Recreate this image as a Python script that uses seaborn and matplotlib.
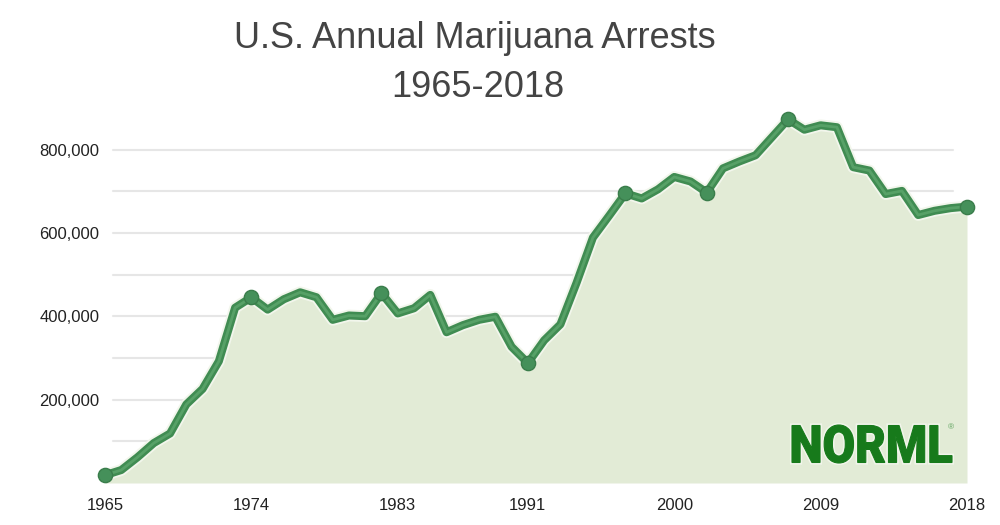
import matplotlib
matplotlib.use("Agg")
import matplotlib.pyplot as plt
import matplotlib.patheffects as pe
import pandas as pd
import seaborn as sns
from matplotlib.font_manager import FontProperties
from matplotlib.patches import PathPatch
from matplotlib.textpath import TextPath
from matplotlib.transforms import Affine2D
from matplotlib.ticker import FuncFormatter

# annual marijuana arrests, 1965-2018
years = list(range(1965, 2019))
arrests = [
    18815, 31119, 61843, 95870, 118903, 188682, 225828, 292179, 420700, 445600,
    416100, 441100, 457600, 445800, 391600, 401982, 400300, 455600, 406965, 419400,
    451400, 361800, 378709, 391600, 399000, 326850, 287850, 342314, 380689, 481098,
    588963, 641642, 695201, 682885, 704812, 734497, 723627, 697082, 755186, 771605,
    786545, 829625, 872720, 847863, 858408, 853838, 757969, 749825, 693482, 700993,
    643121, 653249, 659700, 663367,
]
marker_years = [1965, 1974, 1982, 1991, 1997, 2002, 2007, 2018]
year_ticks = [1965, 1974, 1983, 1991, 2000, 2009, 2018]
value_ticks = [200000, 400000, 600000, 800000]
grid_values = [100000, 200000, 300000, 400000, 500000, 600000, 700000, 800000]

df = pd.DataFrame({"year": years, "arrests": arrests})
highlights = df[df["year"].isin(marker_years)]

sns.set_style("white")
plt.rcParams["font.family"] = ["Liberation Sans", "DejaVu Sans"]

fig = plt.figure(figsize=(10, 5.25), dpi=100)
ax = fig.add_axes([0.105, 0.08, 0.862, 0.7143])

# light gridlines, slightly inset from the filled area
for v in grid_values:
    ax.axhline(v, xmin=0.009, xmax=0.984, color="#e6e6e6", lw=1.5, zorder=0)

ax.fill_between(df["year"], df["arrests"], 0, color="#e2ebd6", lw=0, zorder=1)

glow = [pe.Stroke(linewidth=8.5, foreground="#f2f6ec"), pe.Normal()]
sns.lineplot(data=df, x="year", y="arrests", ax=ax, color="#408c52", lw=5.8,
             solid_joinstyle="round", solid_capstyle="round", path_effects=glow,
             zorder=3, clip_on=False)
# thin highlight running along the tube
sns.lineplot(data=df, x="year", y="arrests", ax=ax, color="#62aa70", lw=2.0,
             alpha=0.7, solid_joinstyle="round", zorder=4, clip_on=False)
sns.scatterplot(data=highlights, x="year", y="arrests", ax=ax, s=105,
                color="#45905a", edgecolor="#3a7d4b", linewidth=1.0,
                zorder=5, clip_on=False)

ax.set_xlim(1965, 2018)
ax.set_ylim(0, 900000)
ax.set_xticks(year_ticks)
ax.set_yticks(value_ticks)
ax.yaxis.set_major_formatter(FuncFormatter(lambda v, p: f"{int(v):,}"))
ax.tick_params(axis="both", length=0, labelsize=12, colors="#222222")
ax.tick_params(axis="x", pad=11)
ax.tick_params(axis="y", pad=4)
ax.set_xlabel("")
ax.set_ylabel("")
ax.set_facecolor("none")
sns.despine(ax=ax, left=True, bottom=True)

fig.text(0.475, 0.927, "U.S. Annual Marijuana Arrests", ha="center", va="center",
         fontsize=26, color="#444444")
fig.text(0.478, 0.834, "1965-2018", ha="center", va="center",
         fontsize=26, color="#444444")

# NORML wordmark in the lower right corner
logo_font = FontProperties(family=["Roboto", "Lato", "Liberation Sans"], weight="black")
logo_path = TextPath((0, 0), "NORML", size=100, prop=logo_font)
bb = logo_path.get_extents()
x0, x1, y0, y1 = 792 / 1000, 952 / 1000, 1 - 463 / 525, 1 - 425 / 525
logo_tr = (Affine2D().translate(-bb.x0, -bb.y0)
           .scale((x1 - x0) / bb.width, (y1 - y0) / bb.height)
           .translate(x0, y0))
logo_path = logo_tr.transform_path(logo_path)
fig.patches.append(PathPatch(logo_path, transform=fig.transFigure, facecolor="none",
                             edgecolor="#f1f5ea", lw=3, zorder=5))
fig.patches.append(PathPatch(logo_path, transform=fig.transFigure, facecolor="#177a1b",
                             edgecolor="#177a1b", lw=0.8, zorder=6))
fig.text(0.951, 1 - 428 / 525, "®", fontsize=6, color="#5aa05a", ha="center", va="center")

fig.savefig("out.png", dpi=100)
plt.close(fig)
